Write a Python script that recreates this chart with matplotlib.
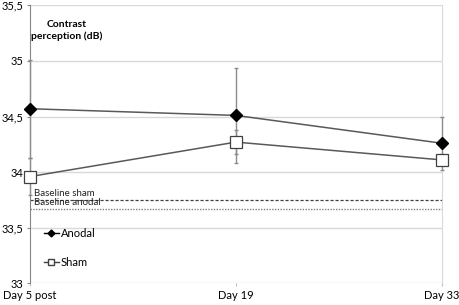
import matplotlib
matplotlib.use("Agg")
import matplotlib.pyplot as plt
from matplotlib.lines import Line2D
from matplotlib.ticker import FuncFormatter

plt.rcParams['font.family'] = ['Lato', 'DejaVu Sans']

days = ["Day 5 post", "Day 19", "Day 33"]
anodal = [34.57, 34.51, 34.26]
anodal_err = [0.44, 0.43, 0.24]
sham = [33.96, 34.27, 34.11]
sham_err = [0.17, 0.11, 0.05]
baseline_sham = 33.75
baseline_anodal = 33.67

fig = plt.figure(figsize=(4.59, 3.05), dpi=100)
ax = fig.add_axes([0.0654, 0.071, 0.8969, 0.9116])

x = list(range(len(days)))
line_col = "#595959"
err_col = "#8c8c8c"

for vals, errs in [(anodal, anodal_err), (sham, sham_err)]:
    eb = ax.errorbar(x, vals, yerr=errs, fmt="none", ecolor=err_col,
                     elinewidth=1.0, capsize=1.5, capthick=1.0, zorder=3)
    for art in eb.lines[1] + eb.lines[2]:
        art.set_clip_on(False)
ax.plot(x, anodal, color=line_col, lw=1.1, marker="D", ms=6.5,
        mfc="black", mec="black", zorder=4, clip_on=False)
ax.plot(x, sham, color=line_col, lw=1.1, marker="s", ms=8.5,
        mfc="white", mec="#404040", mew=0.9, zorder=4, clip_on=False)

# baselines
ax.axhline(baseline_sham, color="#404040", lw=0.9, ls=(0, (2.5, 1.5)), zorder=2)
ax.axhline(baseline_anodal, color="#808080", lw=1.0, ls=(0, (1, 1)), zorder=2)
ax.text(0.02, baseline_sham + 0.015, "Baseline sham", fontsize=7,
        va="bottom", ha="left", color="#222222")
ax.text(0.02, baseline_anodal + 0.015, "Baseline anodal", fontsize=7,
        va="bottom", ha="left", color="#222222")

ax.set_xlim(0, len(days) - 1)
ax.set_ylim(33, 35.5)
ax.set_yticks([33, 33.5, 34, 34.5, 35, 35.5])
ax.yaxis.set_major_formatter(FuncFormatter(lambda v, p: ("%g" % v).replace(".", ",")))
ax.set_xticks(x)
ax.set_xticklabels(days)
ax.grid(axis="y", color="#d9d9d9", lw=1.0, zorder=0)
ax.set_axisbelow(True)

for s in ["top", "bottom"]:
    ax.spines[s].set_visible(False)
ax.spines["left"].set_color("#868686")
ax.spines["right"].set_color("#d9d9d9")
ax.tick_params(axis="y", length=2, width=0.8, color="#868686", pad=3, labelsize=8)
ax.tick_params(axis="x", length=2.5, width=0.8, color="#bfbfbf", pad=2.5, labelsize=8)

ax.text(0.09, 0.91, "Contrast\nperception (dB)", transform=ax.transAxes,
        fontsize=7.5, fontweight="bold", ha="center", va="center", linespacing=1.4)

handles = [
    Line2D([], [], color="black", lw=1.0, marker="D", ms=3.5, mfc="black"),
    Line2D([], [], color="#404040", lw=1.0, marker="s", ms=5, mfc="white"),
]
ax.legend(handles, ["Anodal", "Sham"], loc="lower left",
          bbox_to_anchor=(0.01, 0.02), frameon=False, fontsize=8,
          handlelength=1.3, handletextpad=0.2, labelspacing=1.6)

fig.savefig("out.png", dpi=100)
